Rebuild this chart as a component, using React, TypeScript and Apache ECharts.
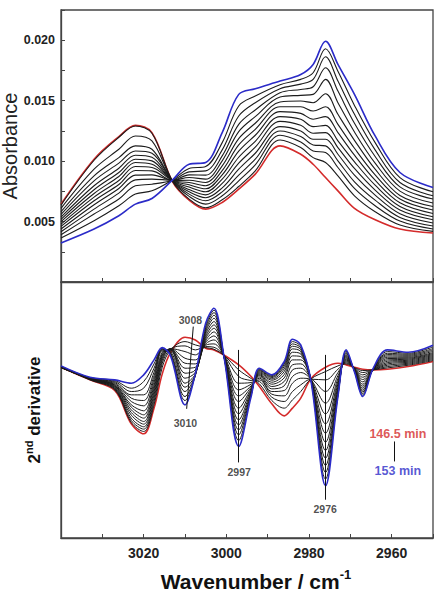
import React, { useEffect, useRef } from "react";
import * as echarts from "echarts";

// ---------- Top panel: absorbance (values in units of 1e-3 absorbance) ----------
const absWavenumbers = [3040, 3032, 3026, 3022, 3018, 3013, 3009, 3005, 3001, 2997, 2993, 2987, 2982, 2979, 2976, 2973, 2969, 2964, 2958, 2950];

const abs146_5min = [6.44, 10.16, 12.03, 12.96, 12.36, 8.29, 6.77, 6.03, 6.58, 7.68, 8.92, 11.26, 10.57, 9.74, 8.64, 7.54, 6.09, 5.15, 4.38, 4.05];
const absScan1 = [6.36, 10.07, 11.97, 12.91, 12.30, 8.31, 6.86, 6.14, 6.80, 7.90, 9.19, 11.75, 11.12, 10.29, 9.88, 8.78, 7.13, 5.81, 4.71, 4.19];
const absScan2 = [6.09, 9.33, 10.98, 12.08, 11.67, 8.34, 7.08, 6.44, 7.13, 8.37, 9.69, 12.14, 11.59, 10.84, 10.71, 9.47, 7.74, 6.31, 5.04, 4.38];
const absScan3 = [5.81, 8.78, 10.29, 11.26, 10.98, 8.34, 7.27, 6.72, 7.46, 8.84, 10.16, 12.49, 12.03, 11.34, 11.26, 10.02, 8.29, 6.77, 5.34, 4.63];
const absScan4 = [5.59, 8.37, 9.83, 10.84, 10.65, 8.37, 7.46, 6.97, 7.79, 9.33, 10.65, 12.85, 12.49, 11.81, 11.81, 10.57, 8.84, 7.19, 5.65, 4.88];
const absScan5 = [5.37, 7.96, 9.41, 10.49, 10.32, 8.37, 7.65, 7.21, 8.15, 9.83, 11.15, 13.29, 12.96, 12.30, 12.36, 11.12, 9.39, 7.60, 5.95, 5.15];
const absScan6 = [5.18, 7.63, 9.06, 10.16, 10.02, 8.37, 7.85, 7.46, 8.51, 10.32, 11.64, 13.68, 13.46, 12.85, 12.96, 11.67, 9.94, 8.01, 6.25, 5.40];
const absScan7 = [4.99, 7.32, 8.73, 9.88, 9.74, 8.40, 8.04, 7.71, 8.86, 10.82, 12.14, 14.09, 13.95, 13.46, 13.68, 12.36, 10.49, 8.42, 6.55, 5.67];
const absScan8 = [4.79, 7.02, 8.40, 9.55, 9.47, 8.40, 8.23, 7.96, 9.22, 11.34, 12.63, 14.50, 14.50, 14.14, 14.50, 13.04, 11.06, 8.86, 6.86, 5.95];
const absScan9 = [4.60, 6.72, 8.07, 9.22, 9.19, 8.40, 8.42, 8.23, 9.61, 11.86, 13.13, 14.89, 14.97, 14.83, 15.57, 13.87, 11.72, 9.33, 7.16, 6.25];
const absScan10 = [4.38, 6.39, 7.74, 8.84, 8.86, 8.42, 8.64, 8.51, 10.02, 12.44, 13.68, 15.30, 15.44, 15.52, 16.76, 14.83, 12.41, 9.83, 7.52, 6.53];
const absScan11 = [4.16, 6.03, 7.35, 8.45, 8.51, 8.42, 8.86, 8.84, 10.43, 13.04, 14.23, 15.66, 15.93, 16.15, 17.72, 15.79, 13.13, 10.38, 7.87, 6.86];
const absScan12 = [3.91, 5.62, 6.86, 7.96, 8.09, 8.42, 9.11, 9.19, 10.93, 13.73, 14.83, 15.99, 16.37, 16.76, 18.63, 16.62, 13.87, 10.93, 8.23, 7.13];
const absScan13 = [3.64, 5.07, 6.31, 7.27, 7.54, 8.45, 9.39, 9.55, 11.53, 14.56, 15.38, 16.32, 16.76, 17.31, 19.29, 17.44, 14.61, 11.53, 8.64, 7.46];
const abs153min = [3.23, 4.38, 5.48, 6.44, 6.91, 8.45, 9.74, 9.88, 12.36, 15.52, 15.99, 16.62, 17.17, 18.00, 19.92, 18.00, 15.52, 12.08, 9.06, 7.82];

// ---------- Bottom panel: 2nd derivative (arbitrary units) ----------
const derWavenumbers = [3040, 3033, 3027, 3023, 3020, 3017.5, 3015.5, 3013.5, 3010, 3007.5, 3005, 3003, 3000.5, 2997, 2994, 2992, 2989, 2986, 2984, 2982, 2979.5, 2976, 2973, 2971, 2969, 2967, 2964.5, 2961, 2956, 2950];

const der146_5min = [0, -3.8, -7.0, -17.0, -20.0, -12.3, -2.0, 4.4, 9.0, 8.2, 5.7, 5.2, 3.6, 0.7, -2.8, -5.8, -11.0, -14.6, -12.3, -9.3, -3.4, 0, 1.2, 0.7, 0, -0.6, -0.8, -0.6, 0.2, 1.7];
const derScan1 = [0, -3.8, -6.8, -16.6, -19.3, -11.3, 0, 5.2, 7.7, 6.7, 5.9, 5.4, 3.5, -0.8, -3.4, -5.0, -10.0, -12.3, -9.8, -7.3, -3.5, -1.3, 0.4, 1.0, -0.1, -1.0, -0.8, -0.2, 0.6, 2.0];
const derScan2 = [0, -3.7, -6.6, -16.0, -18.6, -10.3, 1.2, 5.5, 6.4, 5.2, 6.2, 6.0, 3.4, -2.8, -4.0, -4.3, -9.0, -10.3, -7.3, -5.3, -3.6, -3.8, -0.6, 1.3, -0.2, -1.6, -0.8, 0.2, 0.9, 2.3];
const derScan3 = [-0.1, -3.6, -6.4, -15.3, -17.9, -9.3, 2.0, 5.6, 4.7, 3.7, 6.6, 7.0, 3.3, -4.8, -4.6, -3.8, -8.1, -8.6, -4.8, -3.3, -3.6, -7.3, -1.6, 1.6, -0.3, -2.3, -0.8, 0.6, 1.2, 2.6];
const derScan4 = [-0.1, -3.6, -6.2, -14.4, -17.1, -8.3, 2.6, 5.6, 2.7, 2.2, 7.0, 8.2, 3.2, -6.8, -5.1, -3.3, -7.3, -7.0, -2.8, -1.6, -3.7, -10.8, -2.5, 1.9, -0.4, -3.0, -0.8, 1.0, 1.5, 2.9];
const derScan5 = [-0.1, -3.5, -6.0, -13.6, -16.3, -7.4, 3.2, 5.5, 1.2, 1.0, 7.5, 9.4, 3.1, -8.6, -5.6, -2.9, -6.5, -5.6, -0.8, -0.3, -3.7, -14.0, -3.4, 2.2, -0.5, -3.7, -0.8, 1.4, 1.8, 3.2];
const derScan6 = [-0.1, -3.5, -5.8, -12.8, -15.3, -6.5, 3.7, 5.4, -0.3, 0, 8.0, 10.6, 3.0, -10.3, -6.0, -2.5, -5.8, -4.3, 0.7, 1.0, -3.8, -17.0, -4.2, 2.5, -0.6, -4.4, -0.8, 1.8, 2.1, 3.5];
const derScan7 = [0, -3.4, -5.6, -12.0, -14.3, -5.6, 4.1, 5.3, -1.8, -0.8, 8.6, 11.7, 2.9, -12.3, -6.4, -2.2, -5.1, -3.2, 2.2, 2.2, -3.8, -19.8, -5.0, 2.8, -0.7, -5.1, -0.8, 2.2, 2.4, 3.8];
const derScan8 = [0, -3.4, -5.4, -11.3, -13.1, -4.6, 4.5, 5.1, -3.3, -1.5, 9.2, 12.7, 2.9, -14.0, -6.8, -1.9, -4.5, -2.2, 3.4, 3.2, -3.8, -22.5, -5.8, 3.1, -0.8, -5.7, -0.7, 2.6, 2.7, 4.1];
const derScan9 = [0, -3.3, -5.2, -10.3, -11.6, -3.6, 4.8, 4.9, -4.8, -2.0, 9.9, 13.7, 2.8, -15.8, -7.2, -1.6, -3.9, -1.3, 4.5, 4.0, -3.9, -25.0, -6.5, 3.4, -0.9, -6.3, -0.7, 3.0, 3.0, 4.4];
const derScan10 = [0.1, -3.3, -4.9, -9.3, -10.0, -2.6, 5.1, 4.7, -6.0, -2.3, 10.6, 14.7, 2.8, -17.3, -7.6, -1.3, -3.5, -0.5, 5.5, 4.7, -3.9, -27.3, -7.2, 3.7, -1.0, -6.9, -0.7, 3.4, 3.3, 4.8];
const derScan11 = [0.1, -3.2, -4.6, -8.3, -8.3, -1.5, 5.3, 4.4, -7.3, -2.5, 11.2, 15.6, 2.7, -18.8, -7.9, -1.0, -3.1, 0.2, 6.3, 5.3, -4.0, -29.5, -7.8, 4.1, -1.1, -7.4, -0.6, 3.8, 3.6, 5.2];
const derScan12 = [0.2, -3.2, -4.3, -7.3, -6.3, -0.3, 5.5, 4.1, -8.8, -2.5, 11.9, 16.4, 2.7, -20.3, -8.2, -0.8, -2.8, 0.8, 7.0, 5.8, -4.0, -31.6, -8.3, 4.4, -1.2, -7.9, -0.6, 4.2, 3.9, 5.6];
const derScan13 = [0.3, -3.1, -4.0, -6.3, -4.3, 1.0, 5.7, 3.8, -10.0, -2.3, 12.5, 17.1, 2.6, -22.0, -8.5, -0.6, -2.5, 1.3, 7.7, 6.3, -4.1, -33.6, -8.6, 4.8, -1.3, -8.4, -0.5, 4.7, 4.2, 6.1];
const der153min = [0.4, -3.0, -3.8, -4.8, -2.3, 2.2, 5.9, 3.4, -11.3, -2.0, 13.2, 17.7, 2.6, -23.8, -8.8, -0.3, -2.3, 1.7, 8.4, 6.7, -4.3, -35.6, -8.8, 5.2, -1.4, -8.8, -0.4, 5.2, 4.5, 6.6];

// ---------- Tick labels ----------
const xTickLabels = [3020, 3000, 2980, 2960];
const yTickLabels = ["0.005", "0.010", "0.015", "0.020"];

// ---------- Annotations (data coordinates of bottom panel) ----------
const annotationTexts = ["3008", "3010", "2997", "2976", "146.5 min", "153 min"];
const annotationAnchors = [[3008.7, 14.2], [3009.9, -16.8], [2996.9, -31.6], [2976.1, -42.6], [2958.5, -20.0], [2958.5, -31.3]];
const annotationArrows = [
  [[3008.0, 12.2], [3009.6, -12.5]],
  [[2997.1, 5.2], [2997.1, -28.6]],
  [[2976.1, 3.7], [2976.1, -39.8]],
  [[2959.4, -22.3], [2959.4, -28.3]],
];

const RED = "#d42b2b";
const BLUE = "#2b2bc8";
const BLACK = "#1c1c1c";
const AXIS = "#444";
const FONT = "'Liberation Sans', Arial, Helvetica, sans-serif";

const topCurves = [abs146_5min, absScan1, absScan2, absScan3, absScan4, absScan5, absScan6, absScan7, absScan8, absScan9, absScan10, absScan11, absScan12, absScan13, abs153min];
const botCurves = [der146_5min, derScan1, derScan2, derScan3, derScan4, derScan5, derScan6, derScan7, derScan8, derScan9, derScan10, derScan11, derScan12, derScan13, der153min];

function colorFor(i: number, n: number) {
  if (i === 0) return RED;
  if (i === n - 1) return BLUE;
  return BLACK;
}

export default function App() {
  const ref = useRef<HTMLDivElement>(null);
  useEffect(() => {
    if (!ref.current) return;
    const chart = echarts.init(ref.current, undefined, { renderer: "svg" });

    const series: any[] = [];
    topCurves.forEach((arr, i) => {
      series.push({
        type: "line",
        name: i === 0 ? "146.5 min" : i === topCurves.length - 1 ? "153 min" : "scan " + i,
        xAxisIndex: 0,
        yAxisIndex: 0,
        data: arr.map((v, k) => [absWavenumbers[k], v / 1000]),
        showSymbol: false,
        symbol: "none",
        smooth: 0.35,
        lineStyle: { color: colorFor(i, topCurves.length), width: i === 0 || i === topCurves.length - 1 ? 1.6 : 1.1 },
        silent: true,
      });
    });
    botCurves.forEach((arr, i) => {
      series.push({
        type: "line",
        name: "d2 " + i,
        xAxisIndex: 1,
        yAxisIndex: 1,
        data: arr.map((v, k) => [derWavenumbers[k], v]),
        showSymbol: false,
        symbol: "none",
        smooth: 0.35,
        lineStyle: { color: colorFor(i, botCurves.length), width: i === 0 || i === botCurves.length - 1 ? 1.6 : 1.0 },
        silent: true,
      });
    });
    series.push({
      type: "scatter",
      xAxisIndex: 1,
      yAxisIndex: 1,
      symbolSize: 1,
      itemStyle: { color: "rgba(0,0,0,0)" },
      silent: true,
      data: annotationTexts.map((t, i) => ({
        value: annotationAnchors[i],
        name: t,
        label: {
          color: t === "146.5 min" ? RED : t === "153 min" ? BLUE : "#222",
          fontSize: t.indexOf("min") >= 0 ? 12.5 : 10.5,
        },
      })),
      label: {
        show: true,
        position: "inside",
        formatter: (p: any) => p.name,
        fontFamily: FONT,
        fontWeight: "bold",
      },
      markLine: {
        silent: true,
        symbol: ["none", "arrow"],
        symbolSize: [0, 7],
        lineStyle: { color: "#111", width: 1, type: "solid" },
        label: { show: false },
        data: annotationArrows.map((a) => [{ coord: a[0] }, { coord: a[1] }]),
      },
    });

    const xTickFormatter = (v: number) => (xTickLabels.indexOf(v) >= 0 ? String(v) : "");
    const yTickFormatter = (v: number) => {
      const s = v.toFixed(3);
      return yTickLabels.indexOf(s) >= 0 && Math.abs(Number(s) - v) < 1e-6 ? s : "";
    };

    const axisLine = { show: true, onZero: false, lineStyle: { color: AXIS, width: 1.3 } };

    chart.setOption({
      animation: false,
      backgroundColor: "#fff",
      grid: [
        { left: 61, right: 4, top: 10, height: 272, show: true, borderColor: AXIS, borderWidth: 1.3, outerBoundsMode: "none" },
        { left: 61, right: 4, top: 282, height: 256, show: true, borderColor: AXIS, borderWidth: 1.3, outerBoundsMode: "none" },
      ],
      xAxis: [
        {
          type: "value", gridIndex: 0, min: 2950, max: 3040, interval: 10, inverse: true,
          axisLine, axisTick: { inside: true, length: 4, lineStyle: { color: AXIS } },
          axisLabel: { show: false }, splitLine: { show: false },
        },
        {
          type: "value", gridIndex: 1, min: 2950, max: 3040, interval: 10, inverse: true,
          axisLine, axisTick: { inside: true, length: 4, lineStyle: { color: AXIS } },
          axisLabel: { formatter: xTickFormatter, fontFamily: FONT, fontWeight: "bold", fontSize: 14, color: "#222", margin: 8 },
          splitLine: { show: false },
          name: "{n|Wavenumber / cm}{s|-1}",
          nameLocation: "middle",
          nameGap: 30,
          nameTextStyle: {
            padding: [0, 0, 0, 18],
            rich: {
              n: { fontFamily: FONT, fontWeight: "bold", fontSize: 21, color: "#111", lineHeight: 24, verticalAlign: "bottom" },
              s: { fontFamily: FONT, fontWeight: "bold", fontSize: 13, color: "#111", verticalAlign: "top", lineHeight: 24 },
            },
          },
        },
      ],
      yAxis: [
        {
          type: "value", gridIndex: 0, min: 0, max: 0.0225, interval: 0.0025,
          axisLine, axisTick: { inside: true, length: 4, lineStyle: { color: AXIS } },
          axisLabel: { formatter: yTickFormatter, fontFamily: FONT, fontWeight: "bold", fontSize: 12.5, color: "#222", margin: 6 },
          splitLine: { show: false },
          name: "Absorbance",
          nameLocation: "middle",
          nameGap: 41,
          nameMoveOverlap: false,
          nameTextStyle: { fontFamily: FONT, fontSize: 20, lineHeight: 20, color: "#222" },
        },
        {
          type: "value", gridIndex: 1, min: -51.3, max: 25.6,
          axisLine, axisTick: { show: false }, axisLabel: { show: false }, splitLine: { show: false },
          name: "{n|2}{s|nd}{n| derivative}",
          nameLocation: "middle",
          nameGap: 18,
          nameMoveOverlap: false,
          nameTextStyle: {
            rich: {
              n: { fontFamily: FONT, fontWeight: "bold", fontSize: 17, color: "#111", lineHeight: 20, verticalAlign: "bottom" },
              s: { fontFamily: FONT, fontWeight: "bold", fontSize: 11, color: "#111", verticalAlign: "top", lineHeight: 20 },
            },
          },
        },
      ],
      series,
    });
    return () => chart.dispose();
  }, []);
  return <div ref={ref} style={{ position: "absolute", left: 0, top: 0, width: 437, height: 599 }} />;
}
